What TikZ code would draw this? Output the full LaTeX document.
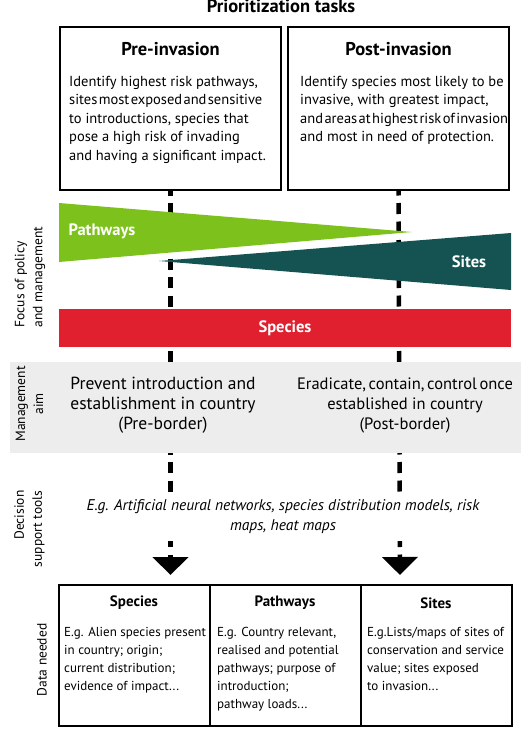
\documentclass[tikz,border=0pt]{standalone}
\usepackage{fontspec}
\setmainfont{PT Sans}
\usetikzlibrary{positioning, arrows.meta}

\definecolor{pathgreen}{HTML}{7DC21C}
\definecolor{sitegreen}{HTML}{155352}
\definecolor{specred}{HTML}{E0202F}
\definecolor{aimgray}{HTML}{EEEDED}

% squeeze the word spaces of one line
\newcommand{\tightwords}[1]{{\spaceskip=1.4pt plus 0.5pt\relax #1}}

\begin{document}
\begin{tikzpicture}[
            x=1pt, y=-1pt,
            font=\fontsize{14.5}{18.5}\selectfont,
            taskbox/.style={rectangle, draw, line width=2pt, minimum width=221pt, minimum height=163pt},
            databox/.style={rectangle, draw, line width=2pt, minimum width=151pt, minimum height=141pt},
            head/.style={font=\fontsize{18.5}{20}\selectfont\bfseries},
            subhead/.style={font=\fontsize{15}{17}\selectfont\bfseries},
            body/.style={align=left, inner sep=0pt, anchor=north west},
            small/.style={align=left, inner sep=0pt, anchor=north west, font=\fontsize{13}{18}\selectfont},
            aim/.style={align=center, font=\fontsize{17.5}{20}\selectfont},
            side/.style={rotate=90, font=\fontsize{13.5}{18}\selectfont},
            band/.style={text=white, font=\fontsize{16.5}{18}\selectfont\bfseries},
            dashline/.style={line width=4.5pt, dash pattern=on 11pt off 7.5pt, dash phase=6.5pt, -{Triangle[width=35pt,length=18pt]}}
        ]
        \useasboundingbox (0,0) rectangle (521,733);

        % prioritization tasks
        \node[font=\fontsize{18.5}{20}\selectfont\bfseries, anchor=base] (title) at (281,12.5) {Prioritization tasks};
        \node[taskbox] (pre) at (170.5,108.5) {};
        \node[taskbox, right=5pt of pre] (post) {};
        \node[head] (prehead) at ([yshift=-23pt]pre.north) {Pre-invasion};
        \node[head] (posthead) at ([yshift=-23pt]post.north) {Post-invasion};
        \node[body] (pretext) at (69,76) {Identify highest risk pathways,\\\tightwords{sites most exposed and sensitive}\\to introductions, species that\\pose a high risk of invading\\and having a significant impact.};
        \node[body] (posttext) at (300,76) {Identify species most likely to be\\invasive, with greatest impact,\\\tightwords{and areas at highest risk of invasion}\\and most in need of protection.};

        % dashed guides down to the data
        \coordinate (preTip) at (170.5,575);
        \coordinate (postTip) at (400,575);
        \draw[dashline] (pre.south) -- (preTip);
        \draw[dashline] (post.south) -- (postTip);

        % focus of policy
        \fill[pathgreen] (59,203) -- (412,232) -- (59,262) -- cycle;
        \fill[sitegreen] (511,233) -- (159,261) -- (511,290) -- cycle;
        \node[band] (pathways) at (102,231) {Pathways};
        \node[band] (sites) at (469,262) {Sites};
        \node[band, fill=specred, minimum width=452pt, minimum height=38pt] (species) at (285,328) {Species};
        \node[side, align=left, anchor=west] (focus) at (30,331) {Focus of policy\\and management};

        % management aim
        \fill[aimgray] (10,362) rectangle (521,453);
        \node[side, align=center] (aimlabel) at (29.5,404) {Management\\aim};
        \node[aim] (preaim) at (163,405) {Prevent introduction and\\establishment in country\\(Pre-border)};
        \node[aim, font=\fontsize{16.5}{20}\selectfont] (postaim) at (405,405) {{\spaceskip=2.6pt plus 0.5pt\relax Eradicate, contain, control once}\\established in country\\(Post-border)};

        % decision support tools
        \node[side, align=right, anchor=east] (toollabel) at (29.5,487) {Decision\\support tools};
        \node[align=center, fill=white, inner xsep=4pt, inner ysep=7pt, font=\fontsize{15.5}{20}\selectfont\itshape] (tools) at (283,517) {E.g. Artificial neural networks, species distribution models, risk\\maps, heat maps};

        % data needed
        \node[side] (datalabel) at (42,660) {Data needed};
        \node[databox] (dspecies) at (134,655.5) {};
        \node[databox, right=-2pt of dspecies] (dpathways) {};
        \node[databox, right=-2pt of dpathways] (dsites) {};
        \node[subhead] (dspecieshead) at ([yshift=-19pt]dspecies.north) {Species};
        \node[subhead] (dpathwayshead) at ([yshift=-19pt]dpathways.north) {Pathways};
        \node[subhead] (dsiteshead) at ([yshift=-19pt]dsites.north) {Sites};
        \node[small] (dspeciestext) at (64,627) {E.g. Alien species present\\in country; origin;\\current distribution;\\evidence of impact...};
        \node[small] (dpathwaystext) at (217,627) {E.g. Country relevant,\\realised and potential\\pathways; purpose of\\introduction;\\pathway loads...};
        \node[small] (dsitestext) at (367,627) {E.g.Lists/maps of sites of\\conservation and service\\value; sites exposed\\to invasion...};
        \end{tikzpicture}
\end{document}
